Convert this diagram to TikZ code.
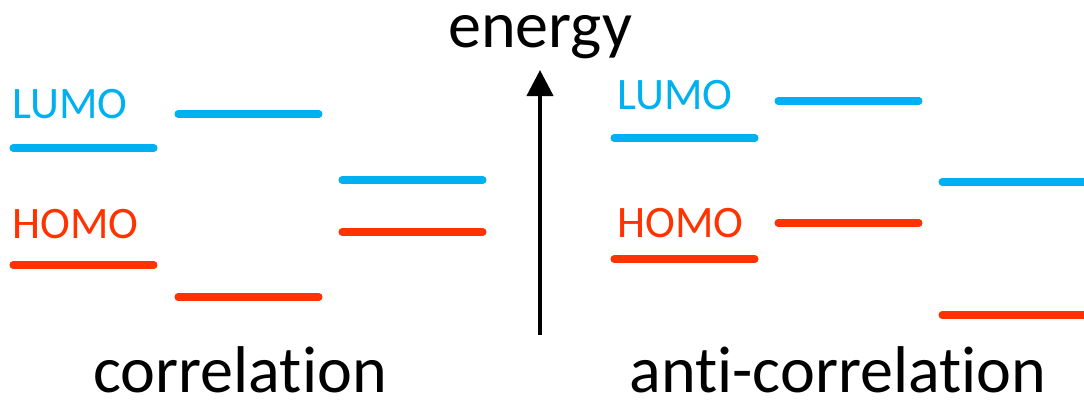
\documentclass[tikz,border=0pt]{standalone}
\usepackage{fontspec}
\setmainfont[Ligatures=NoCommon]{Carlito}
\usetikzlibrary{arrows.meta}
\definecolor{lumoblue}{RGB}{0,176,240}
\definecolor{homored}{RGB}{255,51,0}
\tikzset{
	level/.style={line width=5pt, line cap=round},
	orbital/.style={anchor=base west, inner sep=0pt, font=\fontsize{32}{38}\selectfont},
	caption/.style={anchor=base, inner sep=0pt, text depth=0pt, font=\fontsize{47}{56}\selectfont}
}
\begin{document}
\begin{tikzpicture}[x=0.025cm, y=-0.025cm]
		\useasboundingbox (0,0) rectangle (1084,401);

		% correlation
		\node[orbital, text=lumoblue] (lumoleft) at (12,118) {LUMO};
		\node[orbital, text=homored] (homoleft) at (12,238) {HOMO};
		\draw[level, lumoblue] (13,148) -- (154,148);
		\draw[level, lumoblue] (178,114) -- (319,114);
		\draw[level, lumoblue] (342,180) -- (483,180);
		\draw[level, homored] (13,265) -- (154,265);
		\draw[level, homored] (178,297) -- (319,297);
		\draw[level, homored] (342,232) -- (483,232);
		\node[caption] (corr) at (240,392) {correlation};

		% energy axis
		\coordinate (lowend) at (540,335);
		\coordinate (highend) at (540,70);
		\draw[line width=3pt, -{Triangle[length=0.65cm, width=0.65cm]}] (lowend) -- (highend);
		\node[caption, text height=0.5em, text depth=0.25em] (energy) at (540,47) {energy};

		% anti-correlation
		\node[orbital, text=lumoblue] (lumoright) at (617,109) {LUMO};
		\node[orbital, text=homored] (homoright) at (617,237) {HOMO};
		\draw[level, lumoblue] (614,138) -- (755,138);
		\draw[level, lumoblue] (778,101) -- (919,101);
		\draw[level, lumoblue] (942,182) -- (1084,182);
		\draw[level, homored] (614,259) -- (755,259);
		\draw[level, homored] (778,223) -- (919,223);
		\draw[level, homored] (942,315) -- (1084,315);
		\node[caption] (anticorr) at (838,392) {anti-correlation};
	\end{tikzpicture}
\end{document}
